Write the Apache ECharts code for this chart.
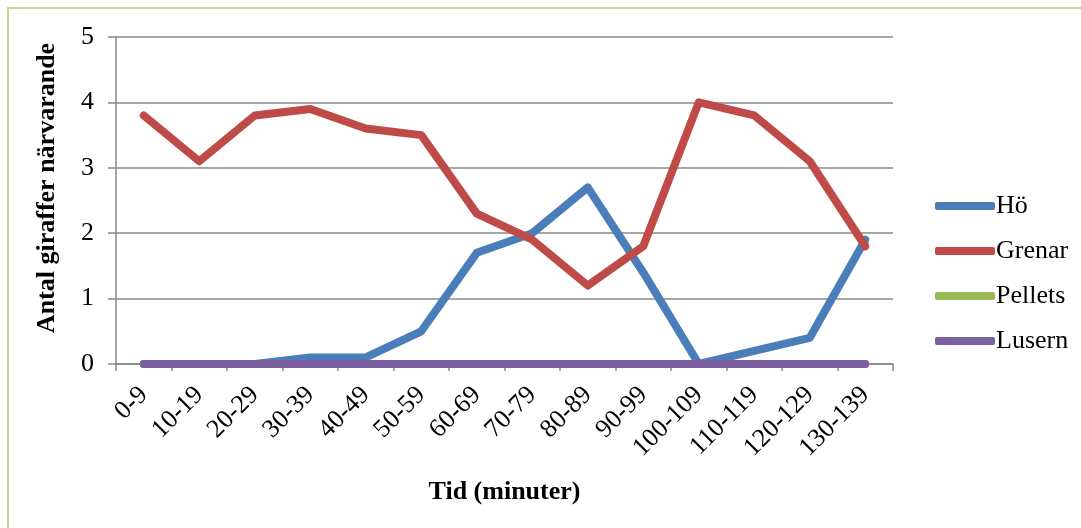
<!DOCTYPE html>
<html><head><meta charset="utf-8">
<script src="https://cdn.jsdelivr.net/npm/echarts@6/dist/echarts.min.js"></script>
<style>
html,body{margin:0;padding:0;background:#fff;overflow:hidden;width:1081px;height:528px;}
#frame{position:absolute;left:7px;top:7px;width:1100px;height:600px;border-top:2px solid #C3D69B;border-left:2px solid #C3D69B;}
#c{position:absolute;left:0;top:0;width:1081px;height:528px;}
</style></head>
<body><div id="frame"></div><div id="c"></div>
<script>
const categories = ['0-9','10-19','20-29','30-39','40-49','50-59','60-69','70-79','80-89','90-99','100-109','110-119','120-129','130-139'];
const hoValues = [0,0,0,0.1,0.1,0.5,1.7,2.0,2.7,1.4,0,0.2,0.4,1.9];
const grenarValues = [3.8,3.1,3.8,3.9,3.6,3.5,2.3,1.9,1.2,1.8,4.0,3.8,3.1,1.8];
const pelletsValues = [0,0,0,0,0,0,0,0,0,0,0,0,0,0];
const lusernValues = [0,0,0,0,0,0,0,0,0,0,0,0,0,0];
const seriesNames = ['Hö','Grenar','Pellets','Lusern'];
const yTitle = 'Antal giraffer närvarande';
const xTitle = 'Tid (minuter)';
const colors = ['#4A7EBB','#BE4B48','#98B954','#7D60A0'];
const font = '"Liberation Serif","Times New Roman",serif';
const chart = echarts.init(document.getElementById('c'));
const mk = (name, data, i) => ({
  name, type:'line', data, showSymbol:false, symbol:'none',
  lineStyle:{width:8,color:colors[i],cap:'round',join:'round'},
  itemStyle:{color:colors[i]}, animation:false
});
chart.setOption({
  animation:false,
  grid:{left:116,right:188,top:37,bottom:164,containLabel:false},
  legend:{
    orient:'vertical', left:930, top:188, itemGap:19,
    itemWidth:60, itemHeight:8, icon:'roundRect',
    data:seriesNames,
    textStyle:{fontFamily:font,fontSize:26,color:'#000',padding:[0,0,0,-4]}
  },
  graphic:[{
    type:'text', x:47, y:188, rotation:Math.PI/2,
    style:{text:yTitle,fontFamily:font,fontSize:26,fontWeight:'bold',fill:'#000',align:'center',verticalAlign:'middle'}
  }],
  xAxis:{
    type:'category', data:categories, boundaryGap:true,
    name:xTitle, nameLocation:'middle', nameGap:115,
    nameTextStyle:{fontFamily:font,fontSize:26,fontWeight:'bold',color:'#000'},
    axisLine:{lineStyle:{color:'#888',width:1.5}},
    axisTick:{show:true,length:7,alignWithLabel:false,lineStyle:{color:'#888',width:1.5}},
    axisLabel:{rotate:45,fontFamily:font,fontSize:26,color:'#000',margin:27,interval:0}
  },
  yAxis:{
    type:'value', min:0, max:5, interval:1,
    axisLine:{show:true,lineStyle:{color:'#888',width:1.5}},
    axisTick:{show:true,length:8,lineStyle:{color:'#888',width:1.5}},
    splitLine:{lineStyle:{color:'#888',width:1.5}},
    axisLabel:{fontFamily:font,fontSize:26,color:'#000',margin:22}
  },
  series:[
    mk('Hö',hoValues,0),
    mk('Grenar',grenarValues,1),
    mk('Pellets',pelletsValues,2),
    mk('Lusern',lusernValues,3)
  ]
});
</script></body></html>
